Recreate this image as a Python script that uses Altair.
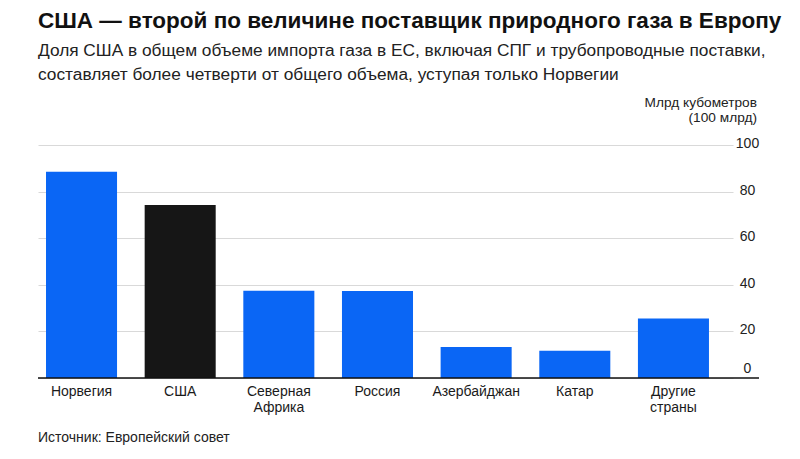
import altair as alt
import pandas as pd

countries = ["Норвегия", "США", "Северная Африка", "Россия", "Азербайджан", "Катар", "Другие страны"]
values = [88.5, 74.2, 37.5, 37.3, 13.3, 11.7, 25.5]
groups = ["other", "usa", "other", "other", "other", "other", "other"]
y_ticks = [0, 20, 40, 60, 80, 100]

title_text = "США — второй по величине поставщик природного газа в Европу"
subtitle_lines = [
    "Доля США в общем объеме импорта газа в ЕС, включая СПГ и трубопроводные поставки,",
    "составляет более четверти от общего объема, уступая только Норвегии",
]
unit_text = "Млрд кубометров\n(100 млрд)"
source_text = "Источник: Европейский совет"

FONT = "Liberation Sans"
W, H = 695, 233

df = pd.DataFrame({"country": countries, "value": values, "group": groups})

bars = alt.Chart(df).mark_bar().encode(
    x=alt.X(
        "country:N",
        sort=countries,
        scale=alt.Scale(paddingInner=0.28, paddingOuter=0.1624, align=0.25),
        axis=alt.Axis(
            title=None,
            labelExpr="split(datum.label, ' ')",
            labelAngle=0,
            labelFont=FONT,
            labelFontSize=14,
            labelColor="#1a1a1a",
            labelLineHeight=16,
            labelPadding=6,
            ticks=False,
            domain=False,
            grid=False,
        ),
    ),
    y=alt.Y(
        "value:Q",
        scale=alt.Scale(domain=[0, 100]),
        axis=alt.Axis(
            orient="right",
            title=None,
            values=y_ticks,
            labelFont=FONT,
            labelFontSize=14,
            labelColor="#222222",
            labelAlign="center",
            labelPadding=14,
            labelOffset={"condition": {"test": "datum.value === 0", "value": -10}, "value": -1.5},
            tickSize=0,
            ticks=False,
            domain=False,
            grid=True,
            gridColor="#d9d9d9",
            gridWidth=1,
        ),
    ),
    color=alt.Color(
        "group:N",
        scale=alt.Scale(domain=["other", "usa"], range=["#0a66f5", "#161616"]),
        legend=None,
    ),
)

one = pd.DataFrame({"k": [0]})

baseline = alt.Chart(one).mark_rule(color="#111111", strokeWidth=1.5).encode(
    x=alt.value(0), x2=alt.value(W + 26), y=alt.value(H)
)

unit = alt.Chart(pd.DataFrame({"t": [unit_text]})).mark_text(
    align="right", baseline="middle", font=FONT, fontSize=13.7, color="#222222",
    lineBreak="\n", lineHeight=15,
).encode(text="t:N", x=alt.value(W + 24), y=alt.value(-42))

source = alt.Chart(pd.DataFrame({"t": [source_text]})).mark_text(
    align="left", baseline="middle", font=FONT, fontSize=14, color="#222222",
).encode(text="t:N", x=alt.value(0), y=alt.value(293))

chart = alt.layer(bars, baseline, unit, source).properties(
    width=W,
    height=H,
    autosize=alt.AutoSizeParams(type="none"),
    padding={"left": 30, "top": 137, "right": 59, "bottom": 73},
    title=alt.TitleParams(
        text=title_text,
        subtitle=subtitle_lines,
        anchor="start",
        frame="group",
        font=FONT,
        fontSize=22.5,
        fontWeight="bold",
        color="#111111",
        subtitleFont=FONT,
        subtitleFontSize=17.3,
        subtitleColor="#222222",
        subtitleLineHeight=24,
        subtitlePadding=9,
        offset=13,
    ),
).configure(background="white").configure_view(
    stroke="transparent", strokeWidth=0
).configure_axis(domainColor="orange", tickColor="cyan", gridColor="green")

chart.save("out.html", embed_options={"renderer": "svg", "actions": False})
